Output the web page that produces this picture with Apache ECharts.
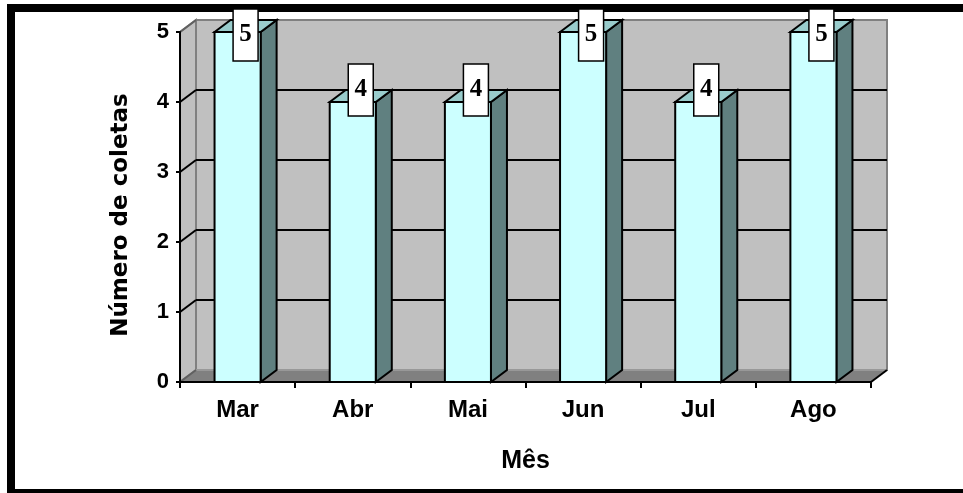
<!DOCTYPE html>
<html><head><meta charset="utf-8">
<script src="https://cdn.jsdelivr.net/npm/echarts@6/dist/echarts.min.js"></script>
<style>html,body{margin:0;padding:0;background:#fff}#c{width:963px;height:493px}</style>
</head><body><div id="c"></div>
<script>
const categories = ['Mar', 'Abr', 'Mai', 'Jun', 'Jul', 'Ago'];
const values = [5, 4, 4, 5, 4, 5];
const yTicks = [0, 1, 2, 3, 4, 5];
const xTitle = 'Mês';
const yTitle = 'Número de coletas';

const DX = 16, DY = 12;
const chart = echarts.init(document.getElementById('c'), null, {renderer: 'canvas'});

function wallRender(params, api) {
  const cs = params.coordSys;
  const x0 = cs.x, x1 = cs.x + cs.width, yT = cs.y, yB = cs.y + cs.height;
  const ch = [];
  ch.push({type: 'rect', shape: {x: x0 + DX, y: yT - DY, width: cs.width, height: cs.height},
    style: {fill: '#c0c0c0', stroke: '#808080', lineWidth: 2}});
  ch.push({type: 'polygon', shape: {points: [[x0, yT], [x0 + DX, yT - DY], [x0 + DX, yB - DY], [x0, yB]]},
    style: {fill: '#c0c0c0', stroke: '#808080', lineWidth: 2}});
  ch.push({type: 'polygon', shape: {points: [[x0, yB], [x1, yB], [x1 + DX, yB - DY], [x0 + DX, yB - DY]]},
    style: {fill: '#808080', stroke: null}});
  ch.push({type: 'line', shape: {x1: x0 + DX, y1: yB - DY, x2: x1 + DX, y2: yB - DY},
    style: {stroke: '#a0a0a0', lineWidth: 1.5}});
  ch.push({type: 'line', shape: {x1: x1, y1: yB, x2: x1 + DX, y2: yB - DY},
    style: {stroke: '#000', lineWidth: 2}});
  yTicks.forEach(function (v) {
    const y = api.coord([0, v])[1];
    const inner = v > yTicks[0] && v < yTicks[yTicks.length - 1];
    ch.push({type: 'line', shape: {x1: x0, y1: y, x2: x0 + DX, y2: y - DY},
      style: {stroke: inner ? '#000' : '#606060', lineWidth: 2}});
    if (inner) {
      ch.push({type: 'line', shape: {x1: x0 + DX, y1: y - DY, x2: x1 + DX, y2: y - DY},
        style: {stroke: '#000', lineWidth: 2}});
    }
  });
  return {type: 'group', children: ch};
}

function barRender(params, api) {
  const idx = api.value(0), v = api.value(1);
  const top = api.coord([idx, v]), base = api.coord([idx, 0]);
  const bw = api.size([1, 0])[0] * 0.4;
  const xl = top[0] - bw / 2, xr = top[0] + bw / 2;
  const yt = top[1], yb = base[1];
  const lw = 2;
  const ch = [
    {type: 'polygon', shape: {points: [[xr, yt], [xr + DX, yt - DY], [xr + DX, yb - DY], [xr, yb]]},
      style: {fill: '#608080', stroke: '#000', lineWidth: lw}},
    {type: 'polygon', shape: {points: [[xl, yt], [xl + DX, yt - DY], [xr + DX, yt - DY], [xr, yt]]},
      style: {fill: '#99cccc', stroke: '#000', lineWidth: lw}},
    {type: 'rect', shape: {x: xl, y: yt, width: bw, height: yb - yt},
      style: {fill: '#ccffff', stroke: '#000', lineWidth: lw}}
  ];
  const lh = 52, lwid = 25;
  const boxTop = Math.max(yt - DY - lh / 2, 9);
  const cy = boxTop + lh / 2;
  const cx = top[0] + DX / 2;
  ch.push({type: 'rect', shape: {x: cx - lwid / 2, y: boxTop, width: lwid, height: lh},
    style: {fill: '#fff', stroke: '#000', lineWidth: 1.5}});
  ch.push({type: 'text', x: cx, y: cy,
    style: {text: String(v), font: 'bold 25px "Liberation Serif"', fill: '#000', align: 'center', verticalAlign: 'middle'}});
  return {type: 'group', children: ch};
}

const option = {
  animation: false,
  backgroundColor: '#fff',
  grid: {left: 180, right: 92, top: 32, bottom: 111},
  xAxis: {
    type: 'category', data: categories, boundaryGap: true, z: 10,
    axisLine: {lineStyle: {color: '#000', width: 2}},
    axisTick: {show: true, length: 6, lineStyle: {color: '#000', width: 2}},
    axisLabel: {margin: 16, fontFamily: '"Liberation Sans", Arial', fontWeight: 'bold', fontSize: 24, color: '#000'},
    name: xTitle, nameLocation: 'middle', nameGap: 67,
    nameTextStyle: {fontFamily: '"Liberation Sans", Arial', fontWeight: 'bold', fontSize: 25, color: '#000'},
    splitLine: {show: false}
  },
  yAxis: {
    type: 'value', min: 0, max: 5, interval: 1, z: 10,
    axisLine: {show: true, lineStyle: {color: '#000', width: 2}},
    axisTick: {show: true, length: 4, lineStyle: {color: '#000', width: 2}},
    axisLabel: {margin: 11, fontFamily: '"Liberation Sans", Arial', fontWeight: 'bold', fontSize: 22, color: '#000'},
    splitLine: {show: false},
    name: yTitle, nameLocation: 'middle', nameGap: 47, nameRotate: 90,
    nameTextStyle: {fontFamily: '"DejaVu Sans"', fontWeight: 'bold', fontSize: 23, color: '#000', padding: [0, 16, 0, 0]}
  },
  graphic: [{
    type: 'rect', z: 5, silent: true,
    shape: {x: 11, y: 8, width: 1100, height: 485},
    style: {fill: null, stroke: '#000', lineWidth: 8}
  }],
  series: [
    {type: 'custom', z: 1, renderItem: wallRender, data: [[0, 0]], encode: {x: 0, y: 1}, silent: true, clip: false},
    {type: 'custom', z: 8, renderItem: barRender, data: values.map(function (v, i) { return [i, v]; }),
      encode: {x: 0, y: 1}, silent: true, clip: false}
  ]
};
chart.setOption(option);
</script>
</body></html>
